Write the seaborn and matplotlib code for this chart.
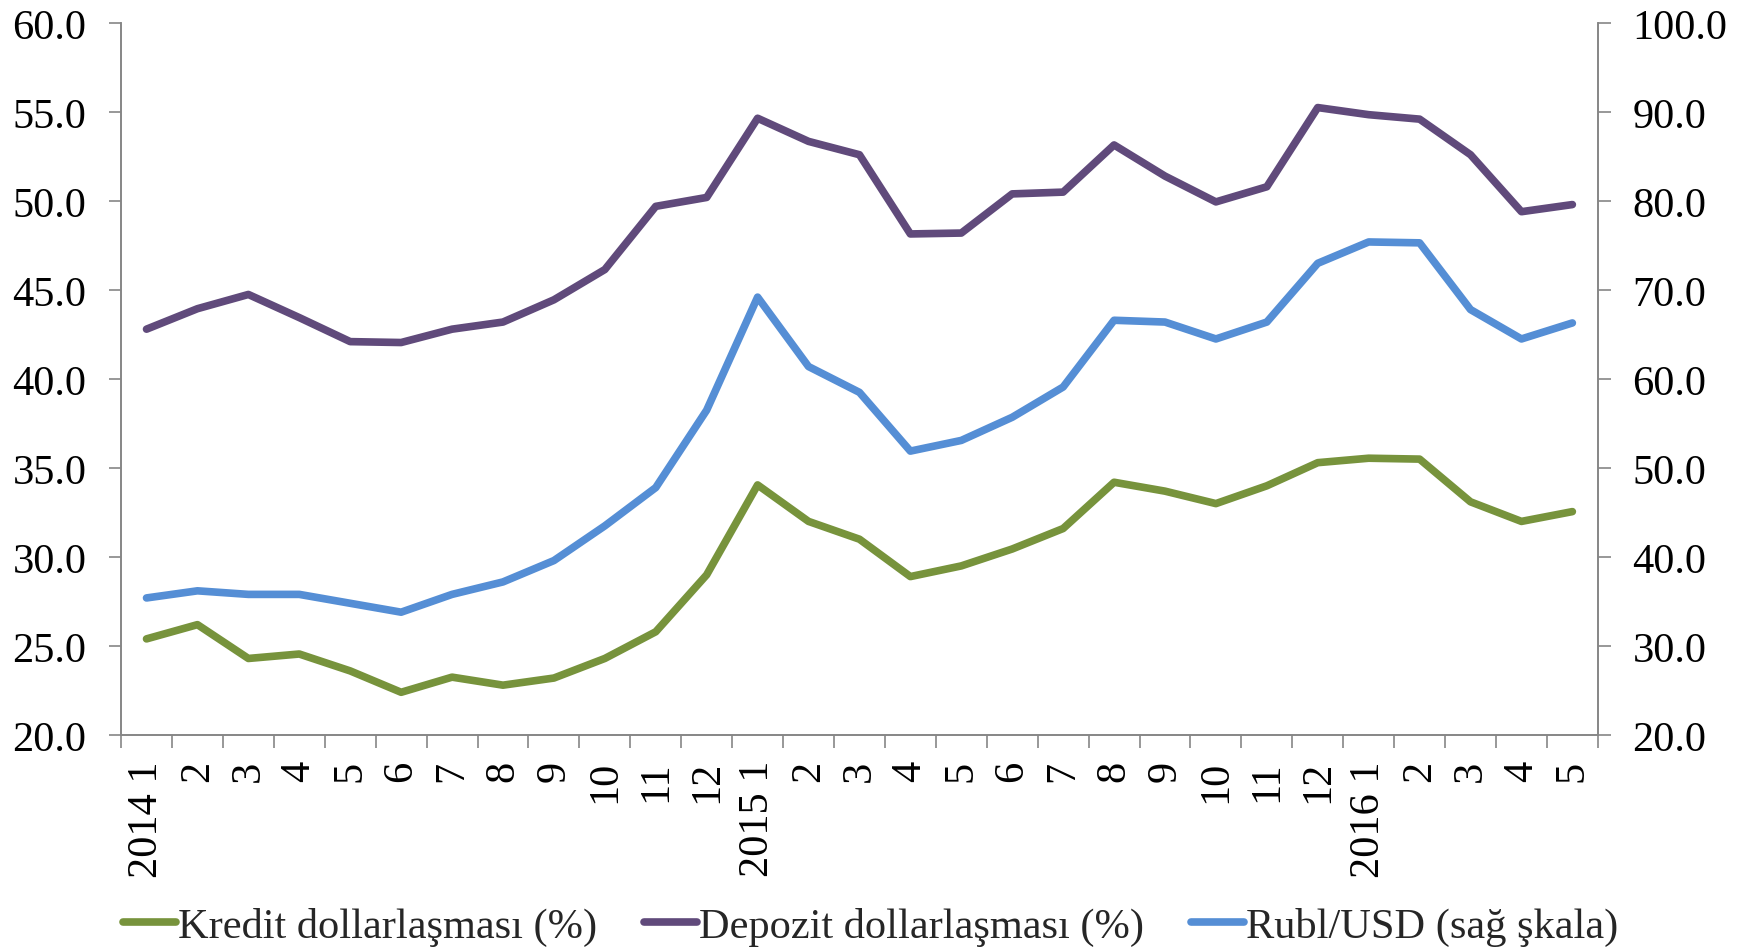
import numpy as np
import pandas as pd
import matplotlib
matplotlib.use("Agg")
import matplotlib.pyplot as plt
import seaborn as sns
from matplotlib.font_manager import FontProperties

# monthly data, 2014-01 .. 2016-05
months = ["2014 1", "2", "3", "4", "5", "6", "7", "8", "9", "10", "11", "12",
          "2015 1", "2", "3", "4", "5", "6", "7", "8", "9", "10", "11", "12",
          "2016 1", "2", "3", "4", "5"]

kredit = [25.4, 26.2, 24.3, 24.55, 23.6, 22.4, 23.25, 22.8, 23.2, 24.3, 25.8, 29.0,
          34.05, 32.0, 31.0, 28.9, 29.5, 30.45, 31.6, 34.2, 33.7, 33.0, 34.0, 35.3,
          35.55, 35.5, 33.1, 32.0, 32.55]

depozit = [42.8, 43.95, 44.75, 43.45, 42.1, 42.05, 42.8, 43.2, 44.45, 46.15, 49.7, 50.2,
           54.65, 53.35, 52.6, 48.15, 48.2, 50.4, 50.5, 53.15, 51.4, 49.95, 50.8, 55.25,
           54.85, 54.6, 52.6, 49.4, 49.8]

rubl_usd = [35.4, 36.2, 35.8, 35.8, 34.8, 33.8, 35.8, 37.2, 39.6, 43.5, 47.8, 56.5,
            69.2, 61.4, 58.5, 51.9, 53.1, 55.7, 59.1, 66.6, 66.4, 64.5, 66.4, 73.0,
            75.4, 75.3, 67.8, 64.5, 66.3]

left_ticks = [20, 25, 30, 35, 40, 45, 50, 55, 60]
right_ticks = [20, 30, 40, 50, 60, 70, 80, 90, 100]

labels = ["Kredit dollarlaşması (%)", "Depozit dollarlaşması (%)", "Rubl/USD (sağ şkala)"]
colors = ["#77933C", "#604A7B", "#558ED5"]

df = pd.DataFrame({"x": np.arange(len(months)), "kredit": kredit,
                   "depozit": depozit, "rubl": rubl_usd})

sns.set_theme(style="white")
plt.rcParams['font.family'] = ['Liberation Serif', 'DejaVu Serif']
fp = FontProperties(family="Liberation Serif", size=30.5)

fig = plt.figure(figsize=(17.52, 9.53), dpi=100)
ax = fig.add_axes([0.0691, 0.2277, 0.8429, 0.7471])
ax2 = ax.twinx()

sns.lineplot(data=df, x="x", y="kredit", ax=ax, color=colors[0], lw=5.5, label=labels[0], legend=False)
sns.lineplot(data=df, x="x", y="depozit", ax=ax, color=colors[1], lw=5.5, label=labels[1], legend=False)
sns.lineplot(data=df, x="x", y="rubl", ax=ax2, color=colors[2], lw=5.5, label=labels[2], legend=False)

gray = "#868686"
ax.set_xlim(-0.5, len(months) - 0.5)
ax.set_ylim(20, 60)
ax2.set_ylim(20, 100)
ax.set_yticks(left_ticks)
ax.set_yticklabels([f"{v:.1f}" for v in left_ticks], fontproperties=fp)
ax2.set_yticks(right_ticks)
ax2.set_yticklabels([f"{v:.1f}" for v in right_ticks], fontproperties=fp)

ax.set_xticks(df["x"])
ax.set_xticklabels(months, rotation=90, fontproperties=fp)
ax.set_xticks(np.arange(-0.5, len(months), 1.0), minor=True)
ax.tick_params(axis="x", which="major", length=0, pad=18, colors="black")
ax.tick_params(axis="x", which="minor", length=9.5, width=1.2, color=gray, direction="out", bottom=True)
ax.tick_params(axis="y", length=9, width=1.2, pad=16, color=gray, labelcolor="black", left=True)
ax2.tick_params(axis="y", length=9, width=1.2, pad=16, color=gray, labelcolor="black", right=True)

ax.set_xlabel("")
ax.set_ylabel("")
ax2.set_ylabel("")
for a in (ax, ax2):
    a.grid(False)
    a.spines["top"].set_visible(False)
    for s in ("left", "right", "bottom"):
        a.spines[s].set_color(gray)
        a.spines[s].set_linewidth(1.2)

h1, l1 = ax.get_legend_handles_labels()
h2, l2 = ax2.get_legend_handles_labels()
fig.legend(h1 + h2, l1 + l2, loc="center", bbox_to_anchor=(0.497, 0.027), ncol=3,
           frameon=False, prop=fp, handlelength=1.25, handletextpad=0.05,
           columnspacing=1.1)

fig.savefig("out.png", dpi=100)
